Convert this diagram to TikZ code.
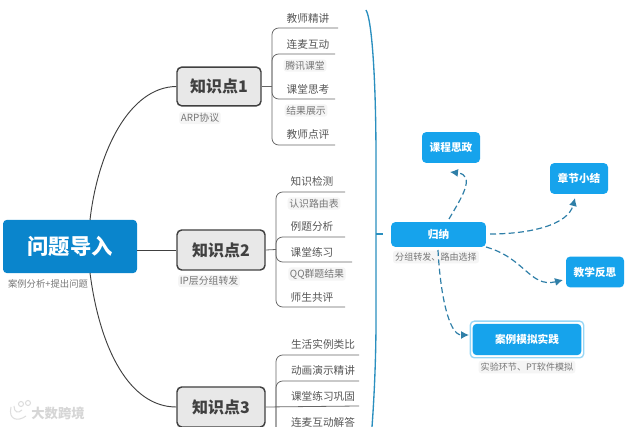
\documentclass[tikz,border=0pt]{standalone}
\usepackage{fontspec}
\setmainfont{Noto Sans CJK SC}
\definecolor{rootblue}{HTML}{0A85CC}
\definecolor{boxblue}{HTML}{16A3EC}
\definecolor{lineblue}{HTML}{2A8FBF}
\definecolor{dashblue}{HTML}{2F7FA8}
\definecolor{txt}{HTML}{555555}
\definecolor{sub}{HTML}{777777}
\usetikzlibrary{arrows.meta}
\tikzset{
  rootbox/.style={draw=none,fill=rootblue,rounded corners=3pt,minimum width=100.5pt,minimum height=40pt,text=white,font=\fontsize{16}{16}\selectfont\bfseries,inner sep=0pt},
  topicbox/.style={draw=black!75,line width=1.1pt,fill=black!9,rounded corners=3.5pt,inner sep=0pt,text=black!75,font=\fontsize{12}{12}\selectfont\bfseries},
  blueboxn/.style={fill=boxblue,rounded corners=3pt,inner sep=0pt,text=white,font=\fontsize{8}{8}\selectfont\bfseries},
  leaf/.style={text=txt,font=\fontsize{8}{8}\selectfont,inner sep=0pt},
  note/.style={text=sub,fill=black!4,rounded corners=2pt,font=\fontsize{7.4}{7.4}\selectfont,inner sep=1.2pt},
  widenote/.style={text=sub,fill=black!4,rounded corners=2pt,font=\fontsize{6.8}{6.8}\selectfont,inner sep=1.6pt},
  plainnote/.style={text=sub,font=\fontsize{7}{7}\selectfont,inner sep=1.2pt},
  link/.style={draw=black!75,line width=0.7pt},
  rule/.style={draw=black!60,line width=0.6pt,rounded corners=5pt},
  dashlink/.style={draw=dashblue,line width=0.9pt,dash pattern=on 4.5pt off 2.5pt,-{Latex[length=6pt,width=6pt]}},
  wmark/.style={draw=black!13,line width=0.8pt},
}
\begin{document}
\begin{tikzpicture}[x=0.75pt,y=-0.75pt]
\useasboundingbox (0,0) rectangle (629,427);
% main nodes
\node[rootbox] (root) at (70,246.5) {问题导入};
\node[plainnote] (rootnote) at (48,284) {案例分析+提出问题};
\node[topicbox,minimum width=63pt,minimum height=29pt] (k1) at (219,86.5) {知识点1};
\node[note] (k1note) at (200,118) {ARP协议};
\node[topicbox,minimum width=66pt,minimum height=30pt] (k2) at (221,250) {知识点2};
\node[note] (k2note) at (209,281) {IP层分组转发};
\node[topicbox,minimum width=66pt,minimum height=30pt] (k3) at (221,407) {知识点3};
% root links
\draw[link] (root.east |- k2.west) -- (k2.west);
\draw[link] (90,220) .. controls (98,150) and (130,87) .. (k1.west);
\draw[link] (90,273) .. controls (100,350) and (130,407) .. (k3.west);
% branch 1
\coordinate (b1) at (272,86.5);
\draw[rule] (k1.east) -- (b1);
\draw[rule] (338,28) -- (272,28) -- (272,145) -- (335,145);
\draw[rule] (335,54) -- (272,54) -- (272,99) -- (335,99);
\node[leaf] (a1) at (308,18) {教师精讲};
\node[leaf] (a2) at (308,44) {连麦互动};
\node[note] (a3) at (305,65.5) {腾讯课堂};
\node[leaf] (a4) at (308,89) {课堂思考};
\node[note] (a5) at (306,110.5) {结果展示};
\node[leaf] (a6) at (308,134) {教师点评};
% branch 2
\coordinate (b2) at (276,249.5);
\draw[rule] (k2.east) -- (b2);
\draw[rule] (345,192) -- (276,192) -- (276,307) -- (345,307);
\draw[rule] (345,237) -- (276,237) -- (276,262) -- (352,262);
\node[leaf] (c1) at (312,181.5) {知识检测};
\node[note] (c2) at (314,203.5) {认识路由表};
\node[leaf] (c3) at (312,226) {例题分析};
\node[leaf] (c4) at (312,252) {课堂练习};
\node[note] (c5) at (317,274) {QQ群题结果};
\node[leaf] (c6) at (312,297) {师生共评};
% branch 3
\coordinate (b3end) at (359,406);
\draw[rule] (k3.east) -- (b3end);
\draw[rule] (359,355) -- (276,355) -- (276,440);
\draw[rule] (359,381) -- (276,381) -- (276,440);
\node[leaf] (d1) at (323,344.5) {生活实例类比};
\node[leaf] (d2) at (323,370) {动画演示精讲};
\node[leaf] (d3) at (323,396) {课堂练习巩固};
\node[leaf] (d4) at (323,422) {连麦互动解答};
% blue brace
\coordinate (tick) at (383,234);
\draw[lineblue,line width=1pt] (366,10) .. controls (372,20) and (376,80) .. (376,160) -- (376,320) .. controls (376,360) and (374,400) .. (372,427);
\draw[lineblue,line width=1pt] (376,234) -- (tick);
% right nodes
\node[blueboxn,minimum width=71pt,minimum height=18.5pt] (g) at (438.5,234.5) {归纳};
\node[widenote] (gnote) at (436,257) {分组转发、路由选择};
\node[blueboxn,minimum width=43.5pt,minimum height=23pt] (s1) at (451,147.5) {课程思政};
\node[blueboxn,minimum width=43.5pt,minimum height=23pt] (s2) at (579,178.5) {章节小结};
\node[blueboxn,minimum width=43.5pt,minimum height=23pt] (s3) at (595,272) {教学反思};
\node[fill=white,draw=boxblue!45,line width=1pt,rounded corners=3pt,minimum width=85pt,minimum height=27.5pt,inner sep=0pt] (s4o) at (527,339.5) {};
\node[blueboxn,minimum width=81.5pt,minimum height=23.5pt] (s4) at (527,339.5) {案例模拟实践};
\node[widenote] (s4note) at (527,367) {实验环节、PT软件模拟};
% dashed links
\draw[dashlink] (449,219) .. controls (460,200) and (477,175) .. (450,172);
\draw[dashlink] (490,234) .. controls (530,234) and (568,225) .. (575,198);
\draw[dashlink] (486,247) .. controls (525,258) and (530,288) .. (563,280);
\draw[dashlink] (438,250) .. controls (440,290) and (448,335) .. (469,335);
% watermark
\draw[wmark] (11,407) .. controls (8,420) and (18,422) .. (26,416);
\draw[wmark] (14,406) .. controls (14,412) and (18,414) .. (22,410);
\draw[wmark] (21,404) circle (2.5);
\draw[wmark] (28,403) circle (2.5);
\node[text=black!16,font=\fontsize{10}{10}\selectfont\bfseries,inner sep=0pt] (wm) at (58,413) {大数跨境};
\end{tikzpicture}
\end{document}
